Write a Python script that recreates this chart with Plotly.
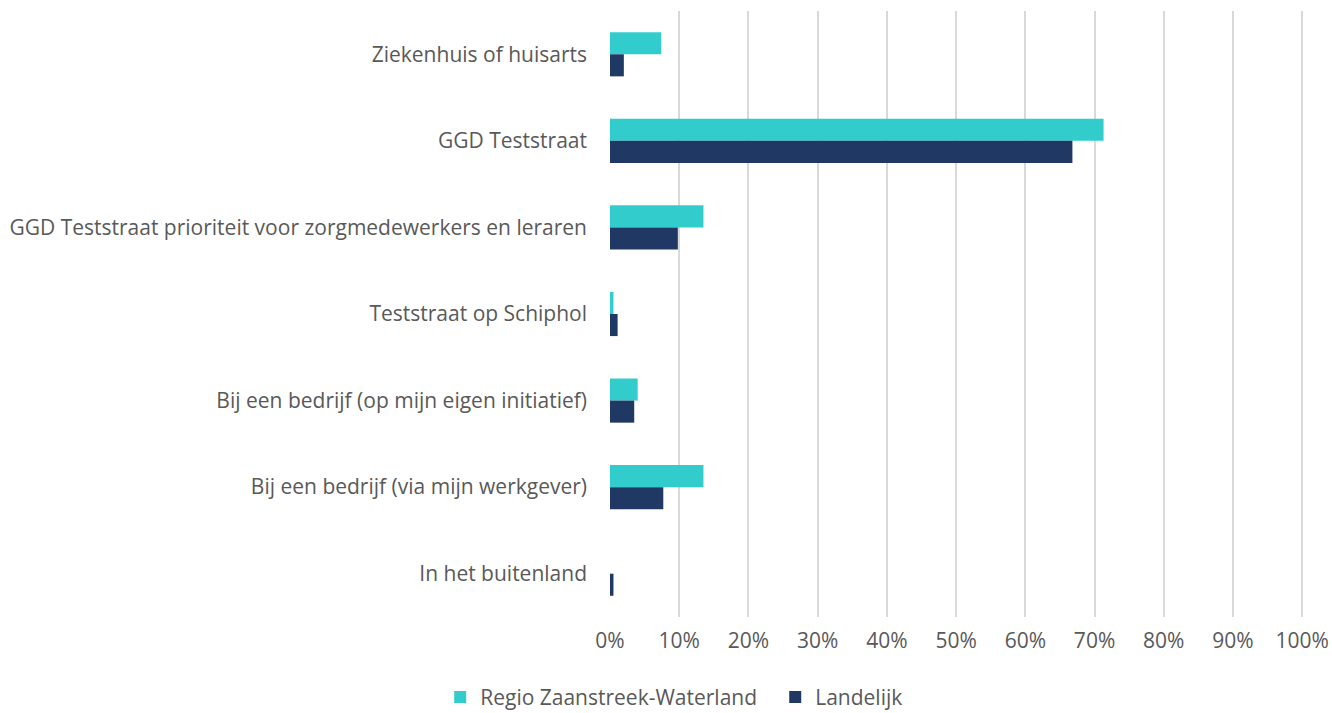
import plotly.graph_objects as go

categories = [
    "Ziekenhuis of huisarts",
    "GGD Teststraat",
    "GGD Teststraat prioriteit voor zorgmedewerkers en leraren",
    "Teststraat op Schiphol",
    "Bij een bedrijf (op mijn eigen initiatief)",
    "Bij een bedrijf (via mijn werkgever)",
    "In het buitenland",
]
regio = [0.074, 0.713, 0.135, 0.005, 0.040, 0.135, 0.0]
landelijk = [0.020, 0.668, 0.098, 0.011, 0.035, 0.077, 0.005]
series_names = ["Regio Zaanstreek-Waterland", "Landelijk"]
x_ticks = [i / 10 for i in range(11)]

fig = go.Figure()
fig.add_trace(go.Bar(y=categories, x=regio, orientation="h", name=series_names[0],
                     marker=dict(color="#33CCCC", line=dict(width=0))))
fig.add_trace(go.Bar(y=categories, x=landelijk, orientation="h", name=series_names[1],
                     marker=dict(color="#1F3864", line=dict(width=0))))

font_family = "'Open Sans', sans-serif"
fig.update_layout(
    barmode="group",
    bargap=0.49,
    bargroupgap=0,
    width=1332, height=713,
    margin=dict(l=610, r=27, t=11, b=96, autoexpand=False),
    plot_bgcolor="white", paper_bgcolor="white",
    font=dict(family=font_family, size=21, color="#595959"),
    showlegend=True,
    legend=dict(orientation="h", xref="container", yref="container",
                x=0.582, xanchor="center", y=0.022, yanchor="middle",
                font=dict(size=21, color="#595959"), itemwidth=30,
                entrywidth=290, entrywidthmode="pixels",
                traceorder="normal"),
    xaxis=dict(range=[0, 1.004], tickvals=x_ticks, tickformat=".0%",
               showgrid=True, gridcolor="#d9d9d9", gridwidth=1.5,
               zeroline=False, showline=False, ticks="", automargin=False,
               ticklabeloverflow="allow", ticklabelstandoff=9),
    yaxis=dict(autorange="reversed", showgrid=False, zeroline=False,
               showline=False, ticks="", automargin=False, ticklabelstandoff=22),
)
fig.write_html("out.html", config={"displayModeBar": False},
               post_script="document.body.style.margin='0';document.body.style.overflow='hidden';")
